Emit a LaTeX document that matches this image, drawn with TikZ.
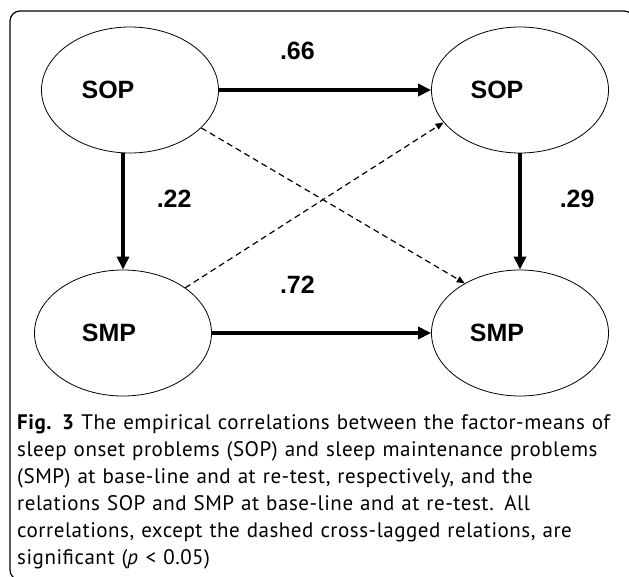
\documentclass[tikz,border=0pt]{standalone}
\usepackage{fontspec}
\setmainfont{Liberation Sans}
\newfontfamily\captionfont[LetterSpace=2.5]{PT Sans}
\usepackage{tikz}
\usetikzlibrary{arrows.meta,positioning,shapes.geometric}
\newcommand{\capfont}{\captionfont\fontsize{21}{27}\selectfont
  \spaceskip=5.2pt plus 20pt minus 3pt\relax}
\newcommand{\capline}[2]{\makebox[#1][s]{#2}}

\begin{document}
\begin{tikzpicture}[
  x=1pt, y=-1pt,
  factor/.style={
    draw,
    ellipse,
    minimum width=177pt,
    minimum height=126pt,
    inner sep=0pt,
    line width=0.8pt
  },
  factorname/.style={font=\fontsize{25}{25}\selectfont\bfseries, inner sep=0pt},
  effect/.style={-{Triangle[length=13pt,width=12pt]}, line width=3.5pt},
  crosslag/.style={-{Triangle[length=8pt,width=6.5pt]}, dash pattern=on 6pt off 4pt, line width=1.2pt},
  coef/.style={font=\fontsize{25}{25}\selectfont\bfseries, inner sep=0pt},
  frame/.style={draw, line width=1.2pt, rounded corners=10pt},
  caption/.style={
    font=\capfont,
    text width=610pt,
    align=left,
    inner sep=0pt
  }
]
\useasboundingbox (0,0) rectangle (629,576);
\begin{scope}
  \clip (0,0) rectangle (629,576);
  \path[frame] (10,11) rectangle (634,580);
\end{scope}

\node[factor] (sopA) at (130,90) {};
\node[factor] (sopB) at (520,90) {};
\node[factor] (smpA) at (123,333) {};
\node[factor] (smpB) at (520,333) {};

\node[factorname] (sopAname) at ([xshift=-22pt]sopA.center) {SOP};
\node[factorname] (sopBname) at ([xshift=-23pt]sopB.center) {SOP};
\node[factorname] (smpAname) at ([xshift=-14pt]smpA.center) {SMP};
\node[factorname] (smpBname) at ([xshift=-23pt]smpB.center) {SMP};

\draw[effect] (sopA.east) -- node[coef,above=29pt,pos=0.37]{.66} (sopB.west);
\draw[effect] (smpA.east) -- node[coef,above=38pt,pos=0.39]{.72} (smpB.west);
\draw[effect] (sopA.south -| smpA.north) -- node[coef,right=32pt,pos=0.39]{.22} (smpA.north);
\draw[effect] (sopB.south) -- node[coef,right=38pt,pos=0.39]{.29} (smpB.north);

\draw[crosslag] (sopA.-28) -- (smpB.138);
\draw[crosslag] (smpA.36) -- (sopB.203);

\node[caption, anchor=north west] (caption) at (17,414)
{\capline{586pt}{\textbf{Fig. 3} The empirical correlations between the factor-means of}\\
\capline{586pt}{sleep onset problems (SOP) and sleep maintenance problems}\\
\capline{515pt}{(SMP) at base-line and at re-test, respectively, and the}\\
\capline{506pt}{relations SOP and SMP at base-line and at re-test. All}\\
\capline{550pt}{correlations, except the dashed cross-lagged relations, are}\\
\capline{190pt}{significant (\textit{p} < 0.05)}};
\end{tikzpicture}
\end{document}
